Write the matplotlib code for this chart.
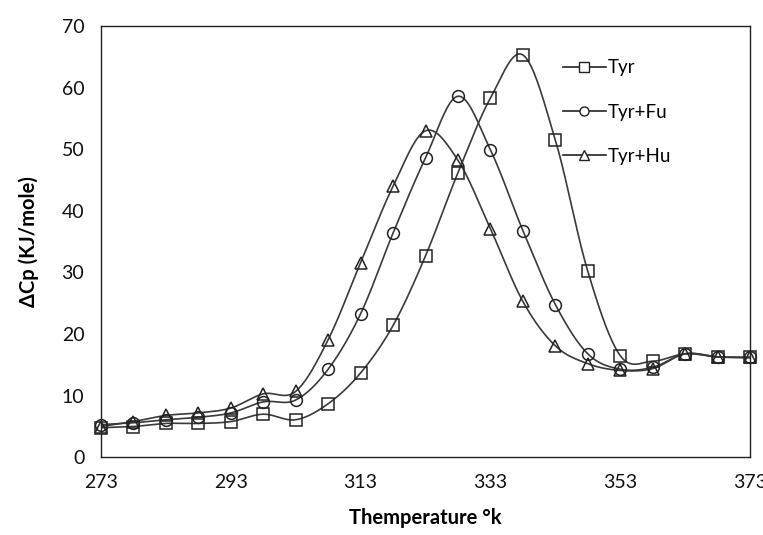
import numpy as np
import matplotlib
matplotlib.use("Agg")
import matplotlib.pyplot as plt
from matplotlib.lines import Line2D

temps = [273, 278, 283, 288, 293, 298, 303, 308, 313, 318, 323,
         328, 333, 338, 343, 348, 353, 358, 363, 368, 373]
tyr = [4.8, 5.0, 5.5, 5.5, 5.8, 7.0, 6.1, 8.7, 13.7, 21.4, 32.7,
       46.2, 58.3, 65.3, 51.5, 30.2, 16.5, 15.6, 16.8, 16.3, 16.2]
tyr_fu = [5.3, 5.6, 6.1, 6.5, 7.2, 9.0, 9.3, 14.3, 23.3, 36.4, 48.6,
          58.6, 49.9, 36.8, 24.8, 16.8, 14.3, 14.6, 16.8, 16.3, 16.2]
tyr_hu = [5.0, 5.8, 6.8, 7.2, 8.0, 10.3, 10.7, 19.1, 31.6, 44.0, 53.0,
          48.2, 37.1, 25.3, 18.1, 15.2, 14.1, 14.4, 16.8, 16.3, 16.2]
labels = ["Tyr", "Tyr+Fu", "Tyr+Hu"]
markers = ["s", "o", "^"]
xticks = [273, 293, 313, 333, 353, 373]
yticks = [0, 10, 20, 30, 40, 50, 60, 70]

plt.rcParams['font.family'] = ['Lato', 'DejaVu Sans']


def smooth(x, y, n=20):
    # Catmull-Rom style smoothing of the drawn line (as in spreadsheet "smoothed line")
    x = np.asarray(x, float)
    y = np.asarray(y, float)
    px = np.concatenate([[2 * x[0] - x[1]], x, [2 * x[-1] - x[-2]]])
    py = np.concatenate([[2 * y[0] - y[1]], y, [2 * y[-1] - y[-2]]])
    xs, ys = [], []
    t = np.linspace(0, 1, n, endpoint=False)
    for i in range(1, len(px) - 2):
        p0, p1, p2, p3 = (np.array([px[j], py[j]]) for j in (i - 1, i, i + 1, i + 2))
        c1 = p1 + (p2 - p0) / 6.0
        c2 = p2 - (p3 - p1) / 6.0
        pts = ((1 - t) ** 3)[:, None] * p1 + (3 * (1 - t) ** 2 * t)[:, None] * c1 \
            + (3 * (1 - t) * t ** 2)[:, None] * c2 + (t ** 3)[:, None] * p2
        xs.extend(pts[:, 0]); ys.extend(pts[:, 1])
    xs.append(x[-1]); ys.append(y[-1])
    return np.array(xs), np.array(ys)


fig = plt.figure(figsize=(7.63, 5.35), dpi=100)
ax = fig.add_axes([0.1324, 0.1452, 0.8506, 0.8062])

handles = []
for series, lab, mk in zip([tyr, tyr_fu, tyr_hu], labels, markers):
    sx, sy = smooth(temps, series)
    ax.plot(sx, sy, color="#3a3a3a", lw=1.2, zorder=2)
    ms = 9 if mk != "o" else 8.5
    ax.plot(temps, series, linestyle="none", marker=mk, markersize=ms,
            markerfacecolor="none", markeredgecolor="#222222",
            markeredgewidth=1.1, zorder=3, clip_on=False)
    handles.append(Line2D([], [], color="#222222", lw=1.2, marker=mk,
                          markersize=6.5, markerfacecolor="white",
                          markeredgecolor="#222222", markeredgewidth=1.0, label=lab))

ax.set_xlim(273, 373)
ax.set_ylim(0, 70)
ax.set_xticks(xticks)
ax.set_yticks(yticks)
ax.tick_params(axis="both", length=0, labelsize=14, colors="#111111")
ax.tick_params(axis="x", pad=12)
ax.tick_params(axis="y", pad=12)
for s in ax.spines.values():
    s.set_color("#222222")
    s.set_linewidth(1.0)

ax.set_xlabel("Themperature °k", fontsize=14.5, fontweight="bold", labelpad=12)
ax.set_ylabel("ΔCp (KJ/mole)", fontsize=14.5, fontweight="bold", labelpad=16)

ax.legend(handles=handles, loc="upper left", bbox_to_anchor=(0.7, 0.94),
          frameon=False, fontsize=13.5, handlelength=2.3, handletextpad=0.1,
          labelspacing=1.45, borderaxespad=0)

fig.savefig("out.png", dpi=100)
